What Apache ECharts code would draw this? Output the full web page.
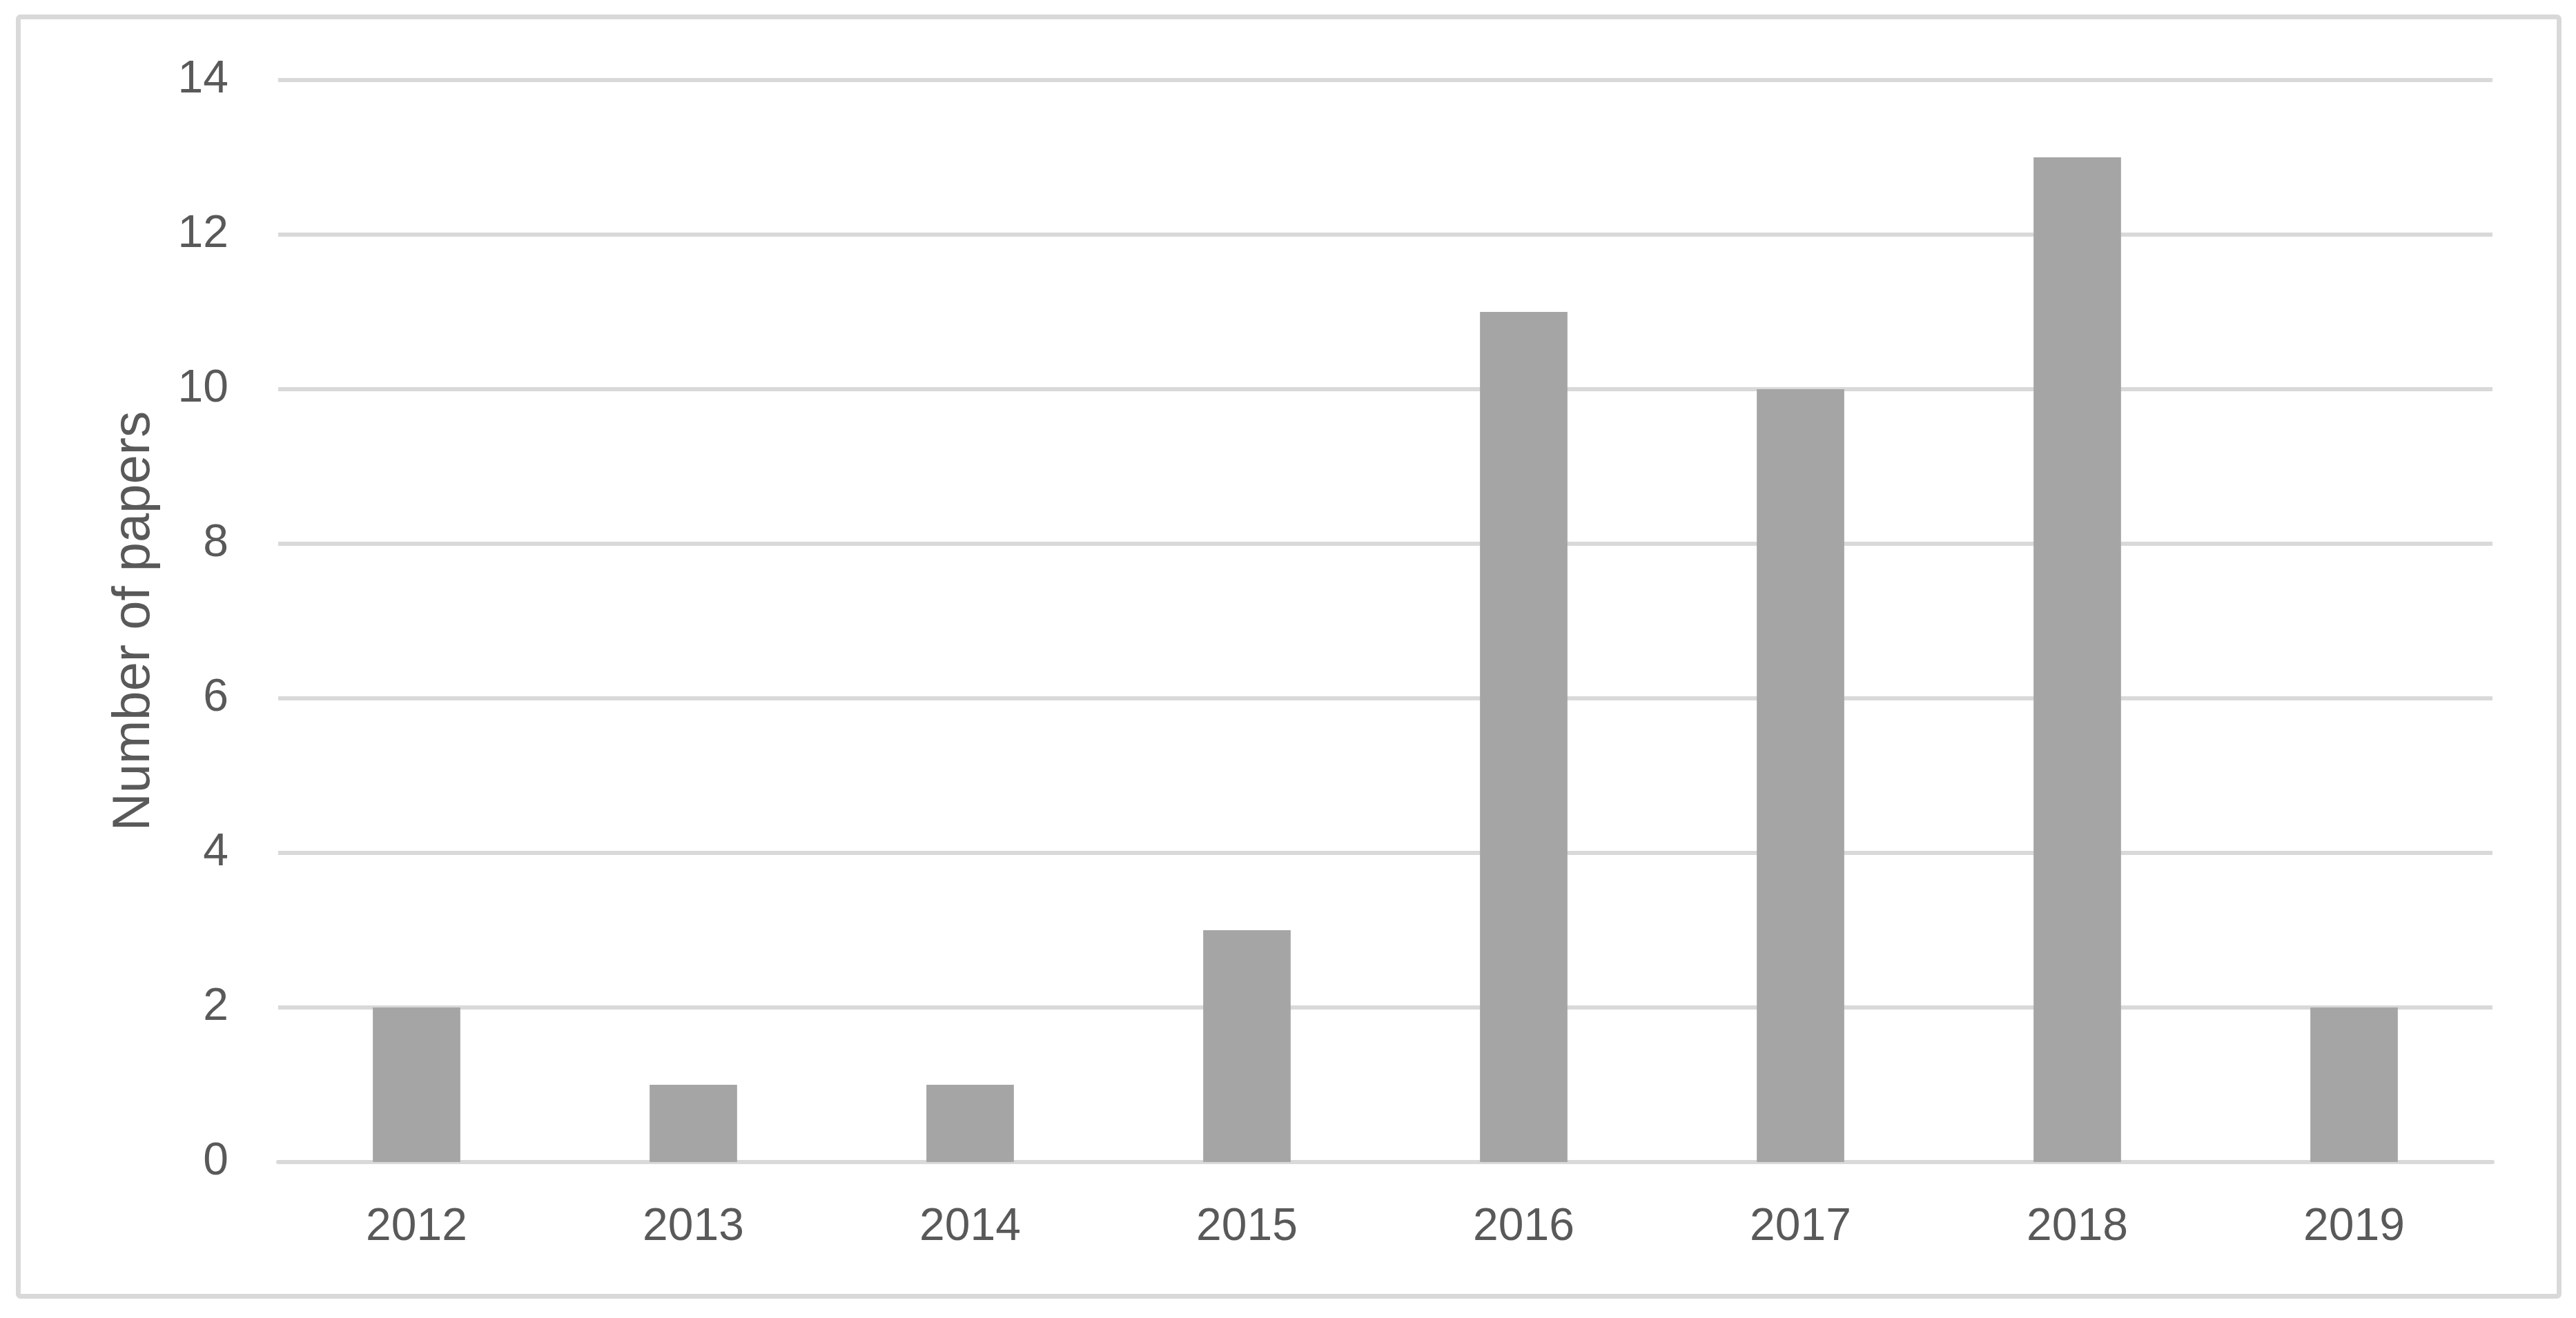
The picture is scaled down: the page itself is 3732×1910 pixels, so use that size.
<!DOCTYPE html>
<html>
<head>
<meta charset="utf-8">
<script src="https://cdn.jsdelivr.net/npm/echarts@6/dist/echarts.min.js"></script>
<style>
html,body{margin:0;padding:0;background:#fff;}
#chart{width:3732px;height:1910px;}
</style>
</head>
<body>
<div id="chart"></div>
<script>
const categories = ['2012','2013','2014','2015','2016','2017','2018','2019'];
const papers = [2, 1, 1, 3, 11, 10, 13, 2];
const yAxisTitle = 'Number of papers';
const yMin = 0, yMax = 14, yInterval = 2;

const chart = echarts.init(document.getElementById('chart'), null, {renderer:'canvas'});
const fontFamily = '"Liberation Sans", Arial, sans-serif';
chart.setOption({
  animation: false,
  backgroundColor: '#ffffff',
  graphic: [{
    type: 'rect',
    shape: {x: 26.5, y: 24.5, width: 3681, height: 1854, r: 3},
    style: {fill: 'none', stroke: '#d9d9d9', lineWidth: 7},
    silent: true
  }],
  grid: {left: 403, right: 121, top: 116, bottom: 226, containLabel: false},
  xAxis: {
    type: 'category',
    data: categories,
    axisLine: {show: true, lineStyle: {color: '#d9d9d9', width: 6}},
    axisTick: {show: false},
    axisLabel: {color: '#595959', fontSize: 66, fontFamily: fontFamily, margin: 62}
  },
  yAxis: {
    type: 'value',
    min: yMin, max: yMax, interval: yInterval,
    name: yAxisTitle,
    nameLocation: 'middle',
    nameGap: 170,
    nameTextStyle: {color: '#595959', fontSize: 76, fontFamily: fontFamily},
    axisLine: {show: false},
    axisTick: {show: false},
    splitLine: {show: true, lineStyle: {color: '#d9d9d9', width: 6}},
    axisLabel: {color: '#595959', fontSize: 66, fontFamily: fontFamily, margin: 72}
  },
  series: [{
    type: 'bar',
    data: papers,
    barCategoryGap: '68.4%',
    itemStyle: {color: '#a5a5a5'},
    z: 3
  }]
});
</script>
</body>
</html>
